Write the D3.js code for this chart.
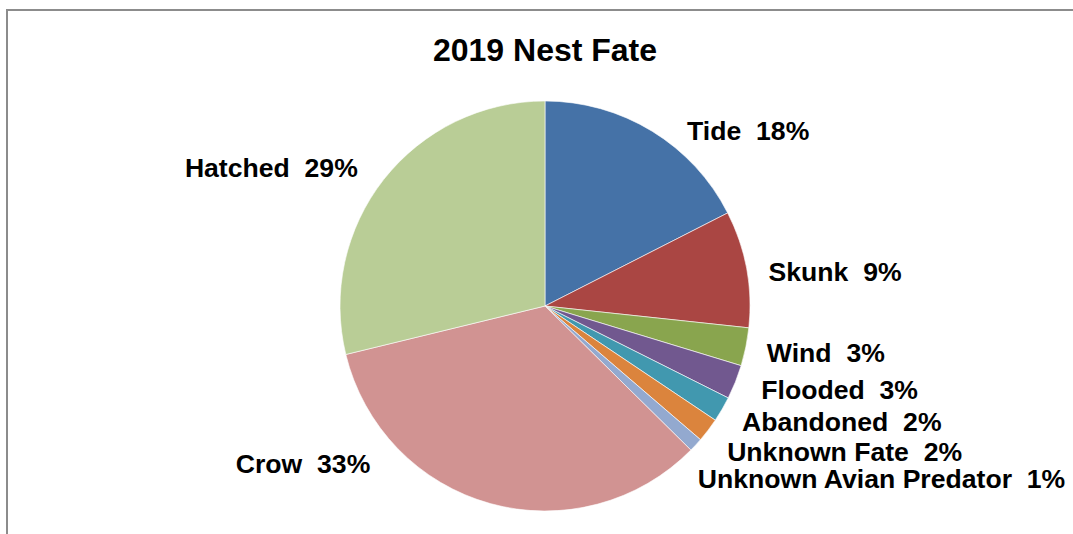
<!DOCTYPE html>
<html lang="en">
<head>
  <meta charset="utf-8">
  <title>2019 Nest Fate</title>
  <script src="https://d3js.org/d3.v7.min.js"></script>
  <style>
    body { margin: 0; background: #fff; }
    text { font-family: "Liberation Sans", Arial, sans-serif; font-weight: bold; fill: #000; }
  </style>
</head>
<body>
  <script>
    var categories = ['Tide', 'Skunk', 'Wind', 'Flooded', 'Abandoned', 'Unknown Fate',
      'Unknown Avian Predator', 'Crow', 'Hatched'];
    var shares = [17.5, 9.2, 3.0, 2.7, 2.0, 1.9, 1.1, 33.8, 28.8];
    var pctLabels = ['18%', '9%', '3%', '3%', '2%', '2%', '1%', '33%', '29%'];
    var colors = ['#4572A7', '#AA4643', '#89A54E', '#71588F', '#4198AF', '#DB843D',
      '#93A9CF', '#D19392', '#B9CD96'];
    // label nudges from the slice's outer mid point (Excel "best fit" placement)
    var labelShift = [[35, -1], [22, 3], [21, 5], [26, 7], [20, 12], [19, 21], [2, 34], [-120, -40], [-26, -12]];

    var w = 1073, h = 534;
    var cx = 545, cy = 306, r = 205;

    var svg = d3.select('body').append('svg')
      .attr('width', w)
      .attr('height', h);

    svg.append('rect')
      .attr('x', 7).attr('y', 10)
      .attr('width', 1100).attr('height', 600)
      .attr('fill', 'none')
      .attr('stroke', '#8c8c8c')
      .attr('stroke-width', 2);

    svg.append('text')
      .attr('x', cx).attr('y', 61)
      .attr('text-anchor', 'middle')
      .style('font-size', '32px')
      .text('2019 Nest Fate');

    var pie = d3.pie().sort(null).value(function(d) { return d; });
    var arcs = pie(shares);
    var arc = d3.arc().innerRadius(0).outerRadius(r);

    var g = svg.append('g')
      .attr('transform', 'translate(' + [cx, cy] + ')');

    g.selectAll('path')
      .data(arcs)
      .enter().append('path')
      .attr('d', arc)
      .attr('fill', function(d, i) { return colors[i]; })
      .attr('stroke', '#fff')
      .attr('stroke-width', 0.6);

    g.selectAll('.lbl')
      .data(arcs)
      .enter().append('text')
      .attr('class', 'lbl')
      .style('font-size', '26.6px')
      .attr('dy', '0.36em')
      .attr('text-anchor', function(d) {
        var m = (d.startAngle + d.endAngle) / 2;
        return m < Math.PI ? 'start' : 'end';
      })
      .attr('x', function(d, i) {
        var m = (d.startAngle + d.endAngle) / 2;
        return r * Math.sin(m) + labelShift[i][0];
      })
      .attr('y', function(d, i) {
        var m = (d.startAngle + d.endAngle) / 2;
        return -r * Math.cos(m) + labelShift[i][1];
      })
      .text(function(d, i) { return categories[i] + '\u00a0\u00a0' + pctLabels[i]; });
  </script>
</body>
</html>
